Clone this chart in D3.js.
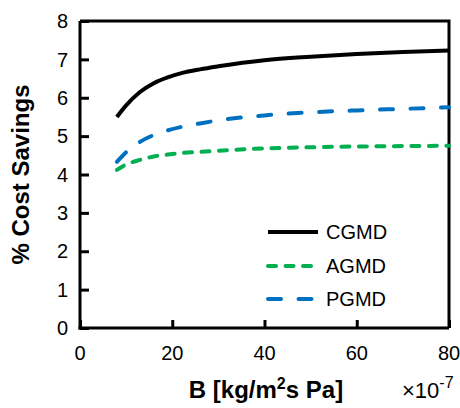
<!DOCTYPE html>
<html><head><meta charset="utf-8">
<script src="https://cdn.jsdelivr.net/npm/d3@7"></script>
<style>body{margin:0;background:#fff}svg{display:block}text{font-family:Arial,"Liberation Sans",sans-serif}</style>
</head><body>
<script>
const bValues = [8, 10, 13, 16, 19, 22, 26, 30, 40, 50, 60, 70, 80];
const cgmd = [5.50, 5.80, 6.15, 6.38, 6.53, 6.64, 6.74, 6.82, 6.98, 7.07, 7.14, 7.19, 7.23];
const agmd = [4.12, 4.26, 4.38, 4.47, 4.52, 4.56, 4.59, 4.62, 4.68, 4.71, 4.73, 4.74, 4.75];
const pgmd = [4.33, 4.58, 4.85, 5.03, 5.15, 5.24, 5.33, 5.41, 5.54, 5.62, 5.67, 5.71, 5.75];
const xTicks = [0, 20, 40, 60, 80];
const yTicks = [0, 1, 2, 3, 4, 5, 6, 7, 8];
const seriesNames = ["CGMD", "AGMD", "PGMD"];
const seriesColors = ["#000000", "#00B050", "#0070C0"];
const seriesDash = [null, "8,9.5", "13,17.5"];

const W = 460, H = 408;
const m = {left: 80, top: 21, right: 449, bottom: 328};
const svg = d3.select("body").append("svg").attr("width", W).attr("height", H);
const x = d3.scaleLinear().domain([0, 80]).range([m.left, m.right]);
const y = d3.scaleLinear().domain([0, 8]).range([m.bottom, m.top]);

// frame top/right
svg.append("path").attr("d", `M${m.left},${m.top}H${m.right}V${m.bottom}`)
  .attr("fill", "none").attr("stroke", "#000").attr("stroke-width", 3);

const yAxis = svg.append("g").attr("transform", `translate(${m.left},0)`)
  .call(d3.axisRight(y).tickValues(yTicks).tickSize(9).tickFormat(""));
const xAxis = svg.append("g").attr("transform", `translate(0,${m.bottom})`)
  .call(d3.axisTop(x).tickValues(xTicks).tickSize(8).tickFormat(""));
[yAxis, xAxis].forEach(g => {
  g.select(".domain").attr("stroke", "#000").attr("stroke-width", 3);
  g.selectAll(".tick line").attr("stroke", "#000").attr("stroke-width", 3);
});
xAxis.select(".domain").attr("d", `M${m.left - 1.5},0H${m.right}`);
yAxis.select(".domain").attr("d", `M0,${m.top}V${m.bottom + 1.5}`);

// tick labels
svg.append("g").selectAll("text").data(yTicks).join("text")
  .attr("x", 68).attr("y", d => y(d)).attr("dy", "0.36em")
  .attr("text-anchor", "end").attr("font-size", 20).text(d => d);
svg.append("g").selectAll("text").data(xTicks).join("text")
  .attr("x", d => x(d)).attr("y", 360)
  .attr("text-anchor", "middle").attr("font-size", 20).text(d => d);

// titles
svg.append("text").attr("transform", `translate(29,${(m.top + m.bottom) / 2}) rotate(-90)`)
  .attr("text-anchor", "middle").attr("font-size", 24).attr("font-weight", "bold")
  .text("% Cost Savings");
const xt = svg.append("text").attr("x", 266).attr("y", 398)
  .attr("text-anchor", "middle").attr("font-size", 24).attr("font-weight", "bold");
xt.append("tspan").text("B [kg/m");
xt.append("tspan").attr("font-size", 16).attr("dy", -9).text("2");
xt.append("tspan").attr("dy", 9).text("s Pa]");
const sc = svg.append("text").attr("x", 402).attr("y", 398).attr("font-size", 22);
sc.append("tspan").text("×10");
sc.append("tspan").attr("font-size", 16).attr("dy", -10).text("-7");

// lines
const data = [cgmd, agmd, pgmd];
const line = d3.line().x((d, i) => x(bValues[i])).y(d => y(d)).curve(d3.curveMonotoneX);
data.forEach((vals, k) => {
  svg.append("path").datum(vals).attr("d", line)
    .attr("fill", "none").attr("stroke", seriesColors[k]).attr("stroke-width", 4)
    .attr("stroke-linecap", seriesDash[k] ? "round" : "butt")
    .attr("stroke-dasharray", seriesDash[k]);
});

// legend
const legY = [232, 266, 299];
seriesNames.forEach((n, k) => {
  svg.append("line").attr("x1", 268).attr("x2", 318).attr("y1", legY[k]).attr("y2", legY[k])
    .attr("stroke", seriesColors[k]).attr("stroke-width", 4)
    .attr("stroke-linecap", seriesDash[k] ? "round" : "butt")
    .attr("stroke-dasharray", seriesDash[k]);
  svg.append("text").attr("x", 326).attr("y", legY[k]).attr("dy", "0.36em")
    .attr("font-size", 20).text(n);
});
</script>
</body></html>
